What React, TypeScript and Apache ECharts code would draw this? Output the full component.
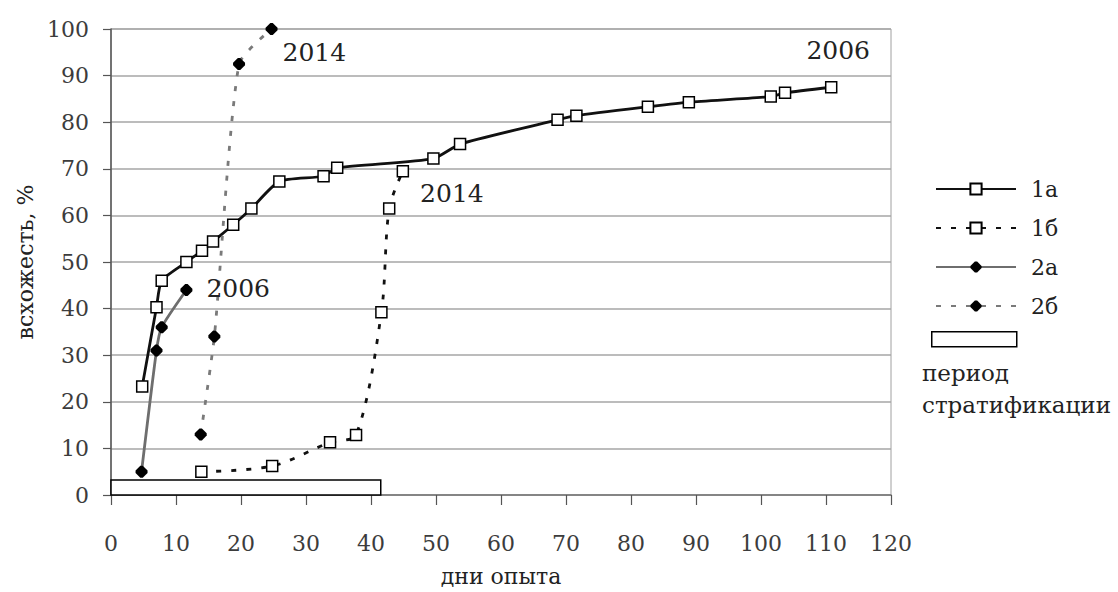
import React, { useEffect, useRef } from "react";
import * as echarts from "echarts";

// Germination curves (days of the experiment vs. germination, %)
const days1a = [4.8, 7, 7.8, 11.6, 14, 15.7, 18.8, 21.6, 25.9, 32.7, 34.8, 49.6, 53.7, 68.7, 71.6, 82.6, 88.9, 101.5, 103.7, 110.8];
const germ1a = [23.3, 40.3, 46, 50, 52.4, 54.4, 58, 61.5, 67.3, 68.4, 70.2, 72.2, 75.3, 80.5, 81.4, 83.3, 84.3, 85.5, 86.3, 87.5];

const days1b = [13.9, 24.8, 33.7, 37.7, 41.6, 42.8, 44.9];
const germ1b = [5, 6.2, 11.3, 12.9, 39.2, 61.5, 69.5];

const days2a = [4.7, 7, 7.8, 11.6];
const germ2a = [5, 31, 36, 44];

const days2b = [13.8, 15.9, 19.7, 24.7];
const germ2b = [13, 34, 92.5, 100];

const seriesNames = ["1а", "1б", "2а", "2б"];
const yearLabels = ["2006", "2014", "2006", "2014"];

// Stratification period (days) shown as a bar along the x axis
const stratificationEnd = 41.5;
const stratificationBarHeight = 3.2;

const xTicks = { min: 0, max: 120, interval: 10 };
const yTicks = { min: 0, max: 100, interval: 10 };

const FONT = "DejaVu Serif";
const DIAMOND = "path://M4,0 L6,0 L10,4 L10,6 L6,10 L4,10 L0,6 L0,4 Z";

function buildData(xs: number[], ys: number[], year: string, label: any) {
  return xs.map((x, i) => {
    const item: any = { value: [x, ys[i]] };
    if (i === xs.length - 1) {
      item.label = {
        show: true,
        formatter: year,
        fontFamily: FONT,
        fontSize: 25,
        color: "#222",
        ...label,
      };
    }
    return item;
  });
}

export default function App() {
  const ref = useRef<HTMLDivElement>(null);

  useEffect(() => {
    if (!ref.current) return;
    const chart = echarts.init(ref.current, undefined, { renderer: "svg" });

    const squareMarker = {
      symbol: "rect",
      symbolSize: 11,
      itemStyle: { color: "#fff", borderColor: "#000", borderWidth: 1.5 },
    };

    chart.setOption({
      animation: false,
      backgroundColor: "#fff",
      grid: {
        left: 111,
        right: 227,
        top: 29,
        bottom: 96,
        show: true,
        borderColor: "#a0a0a0",
        borderWidth: 1,
      },
      xAxis: {
        type: "value",
        ...xTicks,
        name: "дни опыта",
        nameLocation: "middle",
        nameGap: 70,
        nameTextStyle: { fontFamily: FONT, fontSize: 22, color: "#222" },
        axisLine: { show: true, lineStyle: { color: "#777", width: 1.5 } },
        axisTick: { show: true, length: 10, lineStyle: { color: "#555", width: 1.2 } },
        axisLabel: { fontFamily: FONT, fontSize: 22, color: "#3c3c3c", margin: 37 },
        splitLine: { show: false },
      },
      yAxis: {
        type: "value",
        ...yTicks,
        name: "всхожесть, %",
        nameLocation: "middle",
        nameGap: 72,
        nameTextStyle: { fontFamily: FONT, fontSize: 22, color: "#222" },
        axisLine: { show: true, lineStyle: { color: "#555", width: 1.5 } },
        axisTick: { show: true, length: 8, lineStyle: { color: "#555", width: 1.2 } },
        axisLabel: { fontFamily: FONT, fontSize: 22, color: "#3c3c3c", margin: 22 },
        splitLine: { show: true, lineStyle: { color: "#a6a6a6", width: 1.5 } },
      },
      legend: {
        orient: "vertical",
        left: 930,
        top: 173,
        itemWidth: 80,
        itemHeight: 14,
        itemGap: 17,
        data: seriesNames,
        textStyle: {
          fontFamily: FONT,
          fontSize: 22,
          color: "#222",
          lineHeight: 22,
          padding: [0, 0, 0, 10],
        },
      },
      graphic: [
        {
          type: "rect",
          left: 931,
          top: 331,
          shape: { width: 85, height: 15 },
          style: { fill: "#fff", stroke: "#000", lineWidth: 1.5 },
        },
        {
          type: "text",
          left: 922,
          top: 361,
          style: { text: "период", fontFamily: FONT, fontSize: 23, fill: "#222" },
        },
        {
          type: "text",
          left: 922,
          top: 393,
          style: { text: "стратификации", fontFamily: FONT, fontSize: 23, fill: "#222" },
        },
      ],
      series: [
        {
          name: seriesNames[0],
          type: "line",
          smooth: 0.2,
          ...squareMarker,
          lineStyle: { color: "#111", width: 2.8 },
          z: 4,
          data: buildData(days1a, germ1a, yearLabels[0], {
            position: "top",
            distance: 18,
            offset: [7, 0],
          }),
        },
        {
          name: seriesNames[1],
          type: "line",
          smooth: 0.3,
          ...squareMarker,
          lineStyle: { color: "#111", width: 2.8, type: [5, 10] },
          z: 3,
          data: buildData(days1b, germ1b, yearLabels[1], {
            position: "right",
            distance: 11,
            offset: [0, 22],
          }),
          markArea: {
            silent: true,
            itemStyle: { color: "#fff", borderColor: "#000", borderWidth: 1.5 },
            data: [[{ coord: [xTicks.min, 0] }, { coord: [stratificationEnd, stratificationBarHeight] }]],
          },
        },
        {
          name: seriesNames[2],
          type: "line",
          smooth: 0.2,
          symbol: DIAMOND,
          symbolSize: 12,
          itemStyle: { color: "#000" },
          lineStyle: { color: "#6e6e6e", width: 2.8 },
          z: 5,
          data: buildData(days2a, germ2a, yearLabels[2], {
            position: "right",
            distance: 14,
            offset: [0, -1],
          }),
        },
        {
          name: seriesNames[3],
          type: "line",
          smooth: 0.2,
          symbol: DIAMOND,
          symbolSize: 12,
          itemStyle: { color: "#000" },
          lineStyle: { color: "#7a7a7a", width: 2.8, type: [5, 10] },
          z: 5,
          data: buildData(days2b, germ2b, yearLabels[3], {
            position: "right",
            distance: 5,
            offset: [0, 23],
          }),
        },
      ],
    });

    return () => chart.dispose();
  }, []);

  return (
    <div
      ref={ref}
      style={{ position: "fixed", left: 0, top: 0, width: 1118, height: 592 }}
    />
  );
}
